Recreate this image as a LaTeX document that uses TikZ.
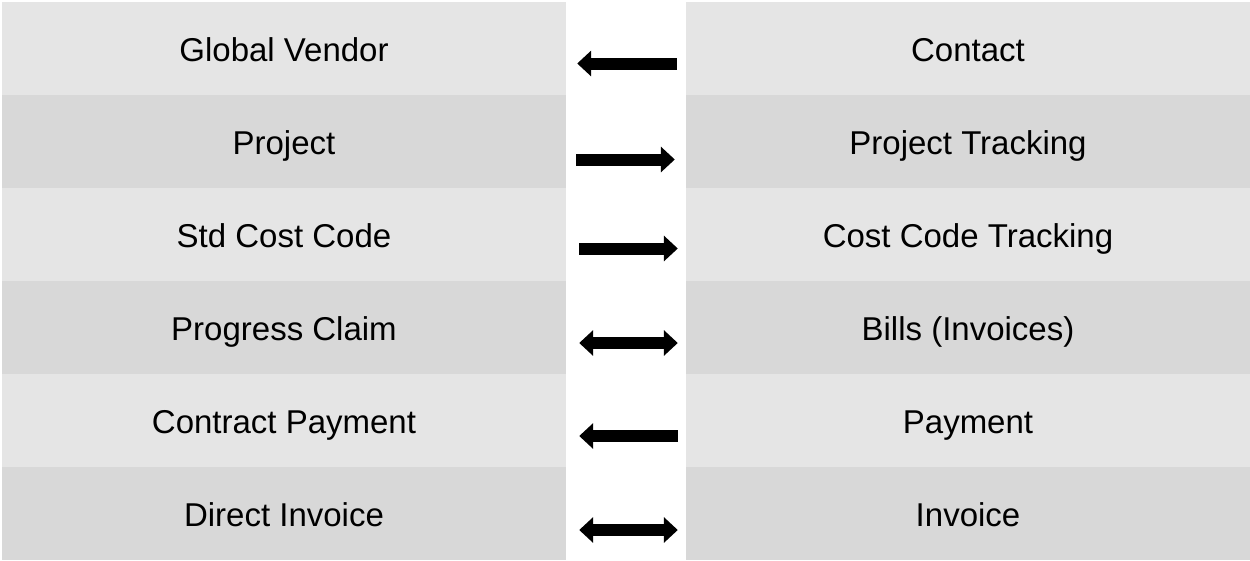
\documentclass[tikz,border=0pt]{standalone}
\usepackage{fontspec}
\setmainfont{Liberation Sans}
\usetikzlibrary{arrows.meta}
\definecolor{rowlight}{HTML}{E5E5E5}
\definecolor{rowdark}{HTML}{D8D8D8}
\tikzset{
	cell/.style={inner sep=0pt, minimum width=564pt, minimum height=93pt, text height=30pt, text depth=5pt, font=\fontsize{33}{40}\selectfont},
	flow/.style={line width=12pt, black, >={Triangle[length=14pt,width=25pt]}}
}

\begin{document}
\begin{tikzpicture}[x=1pt, y=-1pt]
			%%%%% START %%%%%
			
			\useasboundingbox[fill=white] (0, 0) rectangle (1250, 560);
			
			\node[cell, fill=rowlight] (vendor) at (284, 48.5) {Global Vendor};
			\node[cell, fill=rowlight] (contact) at (968, 48.5) {Contact};
			
			\node[cell, fill=rowdark] (project) at (284, 141.5) {Project};
			\node[cell, fill=rowdark] (projtrack) at (968, 141.5) {Project Tracking};
			
			\node[cell, fill=rowlight] (costcode) at (284, 234.5) {Std Cost Code};
			\node[cell, fill=rowlight] (costtrack) at (968, 234.5) {Cost Code Tracking};
			
			\node[cell, fill=rowdark] (claim) at (284, 327.5) {Progress Claim};
			\node[cell, fill=rowdark] (bills) at (968, 327.5) {Bills (Invoices)};
			
			\node[cell, fill=rowlight] (contpay) at (284, 420.5) {Contract Payment};
			\node[cell, fill=rowlight] (payment) at (968, 420.5) {Payment};
			
			\node[cell, fill=rowdark] (direct) at (284, 513.5) {Direct Invoice};
			\node[cell, fill=rowdark] (invoice) at (968, 513.5) {Invoice};
			
			\draw[flow, <-] ([xshift=11pt, yshift=-15pt]vendor.east) -- ([xshift=-9pt, yshift=-15pt]contact.west);
			\draw[flow, ->] ([xshift=10pt, yshift=-18pt]project.east) -- ([xshift=-11pt, yshift=-18pt]projtrack.west);
			\draw[flow, ->] ([xshift=13pt, yshift=-14pt]costcode.east) -- ([xshift=-8pt, yshift=-14pt]costtrack.west);
			\draw[flow, <->] ([xshift=13pt, yshift=-15.5pt]claim.east) -- ([xshift=-8pt, yshift=-15.5pt]bills.west);
			\draw[flow, <-] ([xshift=13pt, yshift=-15.5pt]contpay.east) -- ([xshift=-8pt, yshift=-15.5pt]payment.west);
			\draw[flow, <->] ([xshift=13pt, yshift=-16.5pt]direct.east) -- ([xshift=-8pt, yshift=-16.5pt]invoice.west);
			
			%%%%% END %%%%%
		\end{tikzpicture}
\end{document}
